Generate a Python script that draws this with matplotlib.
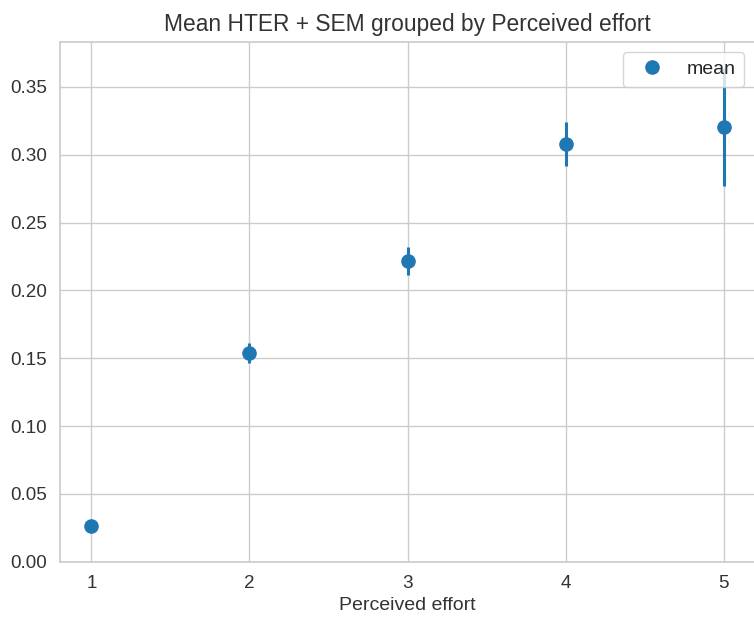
import matplotlib
matplotlib.use("Agg")
import matplotlib.pyplot as plt
import seaborn as sns

effort = [1, 2, 3, 4, 5]
mean_hter = [0.0265, 0.154, 0.222, 0.308, 0.3205]
sem_hter = [0.0, 0.0074, 0.0103, 0.0162, 0.0435]

sns.set_theme(style="whitegrid")
plt.rcParams['font.family'] = ['Liberation Sans', 'DejaVu Sans']

fig = plt.figure(figsize=(7.54, 6.2), dpi=100)
ax = fig.add_axes([0.08, 0.094, 0.92, 0.838])

blue = '#1f77b4'
# SEM bars first, then the means on top
ax.errorbar(effort, mean_hter, yerr=sem_hter, fmt='none', ecolor=blue,
            elinewidth=2.2, capsize=0)
ax.plot(effort, mean_hter, 'o', color=blue, markersize=9.5, label='mean')

ax.set_xlim(0.804, 5.19)
ax.set_ylim(0, 0.383)
ax.set_xticks(effort)
ax.set_yticks([0.0, 0.05, 0.10, 0.15, 0.20, 0.25, 0.30, 0.35])
ax.set_yticklabels(['%.2f' % v for v in ax.get_yticks()])
ax.tick_params(labelsize=13.6, colors='#333333')
ax.set_xlabel('Perceived effort', fontsize=14, color='#333333')
ax.set_title('Mean HTER + SEM grouped by Perceived effort', fontsize=16.4,
             color='#333333', pad=8)
ax.spines['right'].set_visible(False)

ax.legend(loc='upper right', fontsize=14, handletextpad=0.8, borderpad=0.45,
          borderaxespad=0.5)

fig.savefig('out.png', dpi=100)
